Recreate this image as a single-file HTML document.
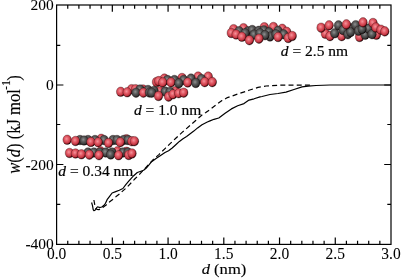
<!DOCTYPE html>
<html><head><meta charset="utf-8"><style>
html,body{margin:0;padding:0;background:#fff;}
svg{display:block;will-change:transform;}
.t{font-family:"Liberation Serif",serif;font-size:15.5px;fill:#000;stroke:#000;stroke-width:0.12px;}
.k{font-family:"Liberation Serif",serif;font-size:15.5px;fill:#000;stroke:#000;stroke-width:0.05px;}
.a{font-family:"Liberation Serif",serif;font-size:15.5px;fill:#000;stroke:#000;stroke-width:0.2px;}
</style></head><body>
<svg width="401" height="278" viewBox="0 0 401 278">
<defs>
<radialGradient id="r" cx="0.42" cy="0.4" r="0.6">
<stop offset="0" stop-color="#f4949c"/><stop offset="0.4" stop-color="#e25a65"/><stop offset="0.75" stop-color="#c23642"/><stop offset="0.9" stop-color="#6a0e16"/><stop offset="1" stop-color="#1c0203"/>
</radialGradient>
<radialGradient id="c" cx="0.42" cy="0.4" r="0.6">
<stop offset="0" stop-color="#909090"/><stop offset="0.4" stop-color="#5c5c5c"/><stop offset="0.78" stop-color="#3a3a3a"/><stop offset="0.92" stop-color="#1c1c1c"/><stop offset="1" stop-color="#050505"/>
</radialGradient>
</defs>
<rect width="401" height="278" fill="#fff"/>
<rect x="56.6" y="5.0" width="334.40" height="239.40" fill="none" stroke="#000" stroke-width="1.2"/>
<path d="M67.75 244.4v-3.7M67.75 5.0v3.7M78.89 244.4v-3.7M78.89 5.0v3.7M90.04 244.4v-3.7M90.04 5.0v3.7M101.19 244.4v-3.7M101.19 5.0v3.7M112.33 244.4v-6.8M112.33 5.0v6.8M123.48 244.4v-3.7M123.48 5.0v3.7M134.63 244.4v-3.7M134.63 5.0v3.7M145.77 244.4v-3.7M145.77 5.0v3.7M156.92 244.4v-3.7M156.92 5.0v3.7M168.07 244.4v-6.8M168.07 5.0v6.8M179.21 244.4v-3.7M179.21 5.0v3.7M190.36 244.4v-3.7M190.36 5.0v3.7M201.51 244.4v-3.7M201.51 5.0v3.7M212.65 244.4v-3.7M212.65 5.0v3.7M223.80 244.4v-6.8M223.80 5.0v6.8M234.95 244.4v-3.7M234.95 5.0v3.7M246.09 244.4v-3.7M246.09 5.0v3.7M257.24 244.4v-3.7M257.24 5.0v3.7M268.39 244.4v-3.7M268.39 5.0v3.7M279.53 244.4v-6.8M279.53 5.0v6.8M290.68 244.4v-3.7M290.68 5.0v3.7M301.83 244.4v-3.7M301.83 5.0v3.7M312.97 244.4v-3.7M312.97 5.0v3.7M324.12 244.4v-3.7M324.12 5.0v3.7M335.27 244.4v-6.8M335.27 5.0v6.8M346.41 244.4v-3.7M346.41 5.0v3.7M357.56 244.4v-3.7M357.56 5.0v3.7M368.71 244.4v-3.7M368.71 5.0v3.7M379.85 244.4v-3.7M379.85 5.0v3.7M56.6 45.40h3.7M391.0 45.40h-3.7M56.6 85.00h6.8M391.0 85.00h-6.8M56.6 124.50h3.7M391.0 124.50h-3.7M56.6 164.50h6.8M391.0 164.50h-6.8M56.6 204.40h3.7M391.0 204.40h-3.7" stroke="#000" stroke-width="1.2" fill="none"/>
<text transform="translate(56.60 258.60) scale(1 1.1)" text-anchor="middle" class="k">0.0</text>
<text transform="translate(112.33 258.60) scale(1 1.1)" text-anchor="middle" class="k">0.5</text>
<text transform="translate(168.07 258.60) scale(1 1.1)" text-anchor="middle" class="k">1.0</text>
<text transform="translate(223.80 258.60) scale(1 1.1)" text-anchor="middle" class="k">1.5</text>
<text transform="translate(279.53 258.60) scale(1 1.1)" text-anchor="middle" class="k">2.0</text>
<text transform="translate(335.27 258.60) scale(1 1.1)" text-anchor="middle" class="k">2.5</text>
<text transform="translate(391.00 258.60) scale(1 1.1)" text-anchor="middle" class="k">3.0</text>
<text transform="translate(53.80 10.00) scale(1 1.0)" text-anchor="end" class="k">200</text>
<text transform="translate(53.80 89.80) scale(1 1.0)" text-anchor="end" class="k">0</text>
<text transform="translate(53.80 169.60) scale(1 1.0)" text-anchor="end" class="k">-200</text>
<text transform="translate(53.80 249.40) scale(1 1.0)" text-anchor="end" class="k">-400</text>
<text transform="translate(224 274.0) scale(1.07 1.0)" text-anchor="middle" class="t"><tspan font-style="italic">d</tspan> (nm)</text>
<text transform="translate(19.6 124.5) rotate(-90) scale(0.93 1)" text-anchor="middle" class="t" style="font-size:17.8px"><tspan font-style="italic">w</tspan>(<tspan font-style="italic">d</tspan>) (kJ mol<tspan dy="-9.8" dx="-0.9" font-size="12.8">-1</tspan><tspan dy="9.8" dx="-0.7">)</tspan></text>
<text transform="translate(58.30 176.00) scale(1 0.93)" text-anchor="start" class="a"><tspan font-style="italic">d</tspan> = 0.34 nm</text>
<text transform="translate(134.00 115.20) scale(1 0.93)" text-anchor="start" class="a"><tspan font-style="italic">d</tspan> = 1.0 nm</text>
<text transform="translate(280.80 56.40) scale(1 0.93)" text-anchor="start" class="a"><tspan font-style="italic">d</tspan> = 2.5 nm</text>
<polyline points="93.9,200.0 94.8,205.0 95.8,208.2 97.0,209.3 99.0,209.6 102.0,208.0 105.5,205.6 109.7,201.8 113.1,199.2 116.1,196.6 119.7,193.9 122.0,191.6 125.6,188.5 128.3,185.8 131.4,182.6 134.5,179.3 138.7,175.2 142.7,170.9 146.0,167.4 150.0,163.0 153.6,159.2 158.9,154.6 165.0,148.6 170.4,143.4 175.8,138.3 182.1,132.4 190.0,125.5 196.0,120.2 202.0,115.0 205.8,112.6 210.0,109.6 216.6,104.4 222.0,100.6 227.4,97.6 238.2,93.9 249.0,90.3 258.0,87.4 266.0,86.0 280.0,85.2 300.0,85.0 310.0,85.2" fill="none" stroke="#000" stroke-width="1.2" stroke-dasharray="5 3.2" stroke-linejoin="round"/>
<polyline points="91.6,202.5 92.5,205.7 93.2,209.6 93.9,210.7 95.3,210.0 96.7,207.7 97.6,206.8 98.6,207.2 100.0,207.5 101.8,207.0 103.7,205.6 105.5,203.3 107.1,199.7 109.4,196.6 112.1,193.0 115.7,191.6 119.3,190.3 122.9,188.5 125.6,184.9 128.3,181.7 131.0,178.6 133.7,175.7 137.3,172.5 140.9,171.2 143.6,170.3 146.3,168.0 149.0,164.9 151.6,161.7 156.4,158.3 160.2,155.8 165.0,152.5 168.6,150.7 172.2,148.0 175.8,144.7 179.4,141.4 183.0,138.7 186.6,136.4 190.2,133.8 193.8,131.1 197.6,127.9 202.0,124.7 207.3,122.0 210.0,120.9 214.0,119.3 218.8,118.0 225.1,113.3 231.4,108.9 237.7,105.7 244.0,103.6 249.0,100.1 254.1,98.8 260.0,96.9 262.0,96.5 270.0,94.5 278.0,93.5 286.0,92.1 294.0,89.5 302.0,86.9 308.0,86.1 316.0,85.5 330.0,85.0 391.0,85.0" fill="none" stroke="#000" stroke-width="1.2" stroke-linejoin="round"/>
<ellipse cx="101.2" cy="138.8" rx="4.3" ry="4.8" fill="url(#r)" stroke="#1a0204" stroke-width="0.3"/>
<ellipse cx="126.4" cy="139.2" rx="4.3" ry="4.8" fill="url(#r)" stroke="#1a0204" stroke-width="0.3"/>
<ellipse cx="80.0" cy="140.0" rx="4.3" ry="4.8" fill="url(#c)" stroke="#1a0204" stroke-width="0.3"/>
<ellipse cx="88.0" cy="140.0" rx="4.3" ry="4.8" fill="url(#c)" stroke="#1a0204" stroke-width="0.3"/>
<ellipse cx="95.0" cy="140.0" rx="4.3" ry="4.8" fill="url(#c)" stroke="#1a0204" stroke-width="0.3"/>
<ellipse cx="104.0" cy="140.0" rx="4.3" ry="4.8" fill="url(#c)" stroke="#1a0204" stroke-width="0.3"/>
<ellipse cx="113.0" cy="140.0" rx="4.3" ry="4.8" fill="url(#c)" stroke="#1a0204" stroke-width="0.3"/>
<ellipse cx="117.0" cy="140.0" rx="4.3" ry="4.8" fill="url(#c)" stroke="#1a0204" stroke-width="0.3"/>
<ellipse cx="123.6" cy="140.0" rx="4.3" ry="4.8" fill="url(#c)" stroke="#1a0204" stroke-width="0.3"/>
<ellipse cx="128.0" cy="140.0" rx="4.3" ry="4.8" fill="url(#c)" stroke="#1a0204" stroke-width="0.3"/>
<ellipse cx="67.2" cy="139.8" rx="4.3" ry="4.8" fill="url(#r)" stroke="#1a0204" stroke-width="0.3"/>
<ellipse cx="75.5" cy="141.0" rx="4.3" ry="4.8" fill="url(#r)" stroke="#1a0204" stroke-width="0.3"/>
<ellipse cx="84.0" cy="140.5" rx="4.3" ry="4.8" fill="url(#c)" stroke="#1a0204" stroke-width="0.3"/>
<ellipse cx="90.9" cy="142.0" rx="4.3" ry="4.8" fill="url(#r)" stroke="#1a0204" stroke-width="0.3"/>
<ellipse cx="98.2" cy="142.3" rx="4.3" ry="4.8" fill="url(#r)" stroke="#1a0204" stroke-width="0.3"/>
<ellipse cx="108.5" cy="143.0" rx="4.3" ry="4.8" fill="url(#r)" stroke="#1a0204" stroke-width="0.3"/>
<ellipse cx="120.3" cy="142.2" rx="4.3" ry="4.8" fill="url(#r)" stroke="#1a0204" stroke-width="0.3"/>
<ellipse cx="131.8" cy="141.2" rx="4.3" ry="4.8" fill="url(#r)" stroke="#1a0204" stroke-width="0.3"/>
<ellipse cx="134.4" cy="141.2" rx="4.3" ry="4.8" fill="url(#r)" stroke="#1a0204" stroke-width="0.3"/>
<ellipse cx="100.6" cy="151.4" rx="4.3" ry="4.8" fill="url(#r)" stroke="#1a0204" stroke-width="0.3"/>
<ellipse cx="117.4" cy="151.4" rx="4.3" ry="4.8" fill="url(#r)" stroke="#1a0204" stroke-width="0.3"/>
<ellipse cx="126.4" cy="151.8" rx="4.3" ry="4.8" fill="url(#r)" stroke="#1a0204" stroke-width="0.3"/>
<ellipse cx="88.0" cy="152.5" rx="4.3" ry="4.8" fill="url(#c)" stroke="#1a0204" stroke-width="0.3"/>
<ellipse cx="93.9" cy="152.5" rx="4.3" ry="4.8" fill="url(#c)" stroke="#1a0204" stroke-width="0.3"/>
<ellipse cx="100.0" cy="152.5" rx="4.3" ry="4.8" fill="url(#c)" stroke="#1a0204" stroke-width="0.3"/>
<ellipse cx="105.7" cy="152.5" rx="4.3" ry="4.8" fill="url(#c)" stroke="#1a0204" stroke-width="0.3"/>
<ellipse cx="112.0" cy="152.5" rx="4.3" ry="4.8" fill="url(#c)" stroke="#1a0204" stroke-width="0.3"/>
<ellipse cx="123.0" cy="152.5" rx="4.3" ry="4.8" fill="url(#c)" stroke="#1a0204" stroke-width="0.3"/>
<ellipse cx="128.0" cy="152.5" rx="4.3" ry="4.8" fill="url(#c)" stroke="#1a0204" stroke-width="0.3"/>
<ellipse cx="69.5" cy="153.0" rx="4.3" ry="4.8" fill="url(#r)" stroke="#1a0204" stroke-width="0.3"/>
<ellipse cx="75.5" cy="153.5" rx="4.3" ry="4.8" fill="url(#r)" stroke="#1a0204" stroke-width="0.3"/>
<ellipse cx="81.4" cy="154.3" rx="4.3" ry="4.8" fill="url(#r)" stroke="#1a0204" stroke-width="0.3"/>
<ellipse cx="89.4" cy="154.7" rx="4.3" ry="4.8" fill="url(#r)" stroke="#1a0204" stroke-width="0.3"/>
<ellipse cx="99.0" cy="155.2" rx="4.3" ry="4.8" fill="url(#r)" stroke="#1a0204" stroke-width="0.3"/>
<ellipse cx="110.7" cy="154.5" rx="4.3" ry="4.8" fill="url(#c)" stroke="#1a0204" stroke-width="0.3"/>
<ellipse cx="118.6" cy="155.3" rx="4.3" ry="4.8" fill="url(#r)" stroke="#1a0204" stroke-width="0.3"/>
<ellipse cx="128.7" cy="155.0" rx="4.3" ry="4.8" fill="url(#r)" stroke="#1a0204" stroke-width="0.3"/>
<ellipse cx="132.0" cy="153.5" rx="4.3" ry="4.8" fill="url(#r)" stroke="#1a0204" stroke-width="0.3"/>
<ellipse cx="131.6" cy="89.2" rx="4.3" ry="4.8" fill="url(#r)" stroke="#1a0204" stroke-width="0.3"/>
<ellipse cx="135.5" cy="89.2" rx="4.3" ry="4.8" fill="url(#r)" stroke="#1a0204" stroke-width="0.3"/>
<ellipse cx="143.0" cy="89.5" rx="4.3" ry="4.8" fill="url(#r)" stroke="#1a0204" stroke-width="0.3"/>
<ellipse cx="159.6" cy="91.2" rx="4.3" ry="4.8" fill="url(#r)" stroke="#1a0204" stroke-width="0.3"/>
<ellipse cx="175.3" cy="91.2" rx="4.3" ry="4.8" fill="url(#r)" stroke="#1a0204" stroke-width="0.3"/>
<ellipse cx="140.0" cy="89.5" rx="4.3" ry="4.8" fill="url(#c)" stroke="#1a0204" stroke-width="0.3"/>
<ellipse cx="148.0" cy="90.0" rx="4.3" ry="4.8" fill="url(#c)" stroke="#1a0204" stroke-width="0.3"/>
<ellipse cx="154.0" cy="91.0" rx="4.3" ry="4.8" fill="url(#c)" stroke="#1a0204" stroke-width="0.3"/>
<ellipse cx="165.2" cy="91.5" rx="4.3" ry="4.8" fill="url(#c)" stroke="#1a0204" stroke-width="0.3"/>
<ellipse cx="170.0" cy="92.0" rx="4.3" ry="4.8" fill="url(#c)" stroke="#1a0204" stroke-width="0.3"/>
<ellipse cx="120.7" cy="91.8" rx="4.3" ry="4.8" fill="url(#r)" stroke="#1a0204" stroke-width="0.3"/>
<ellipse cx="127.2" cy="92.3" rx="4.3" ry="4.8" fill="url(#r)" stroke="#1a0204" stroke-width="0.3"/>
<ellipse cx="136.0" cy="92.7" rx="4.3" ry="4.8" fill="url(#c)" stroke="#1a0204" stroke-width="0.3"/>
<ellipse cx="143.4" cy="92.7" rx="4.3" ry="4.8" fill="url(#r)" stroke="#1a0204" stroke-width="0.3"/>
<ellipse cx="149.5" cy="92.5" rx="4.3" ry="4.8" fill="url(#c)" stroke="#1a0204" stroke-width="0.3"/>
<ellipse cx="151.7" cy="92.7" rx="4.3" ry="4.8" fill="url(#c)" stroke="#1a0204" stroke-width="0.3"/>
<ellipse cx="158.5" cy="96.0" rx="4.3" ry="4.8" fill="url(#r)" stroke="#1a0204" stroke-width="0.3"/>
<ellipse cx="168.6" cy="96.6" rx="4.3" ry="4.8" fill="url(#r)" stroke="#1a0204" stroke-width="0.3"/>
<ellipse cx="173.0" cy="94.3" rx="4.3" ry="4.8" fill="url(#r)" stroke="#1a0204" stroke-width="0.3"/>
<ellipse cx="178.7" cy="93.2" rx="4.3" ry="4.8" fill="url(#r)" stroke="#1a0204" stroke-width="0.3"/>
<ellipse cx="183.7" cy="92.7" rx="4.3" ry="4.8" fill="url(#r)" stroke="#1a0204" stroke-width="0.3"/>
<ellipse cx="164.4" cy="78.6" rx="4.3" ry="4.8" fill="url(#r)" stroke="#1a0204" stroke-width="0.3"/>
<ellipse cx="182.0" cy="78.0" rx="4.3" ry="4.8" fill="url(#r)" stroke="#1a0204" stroke-width="0.3"/>
<ellipse cx="198.1" cy="76.6" rx="4.3" ry="4.8" fill="url(#r)" stroke="#1a0204" stroke-width="0.3"/>
<ellipse cx="208.2" cy="76.6" rx="4.3" ry="4.8" fill="url(#r)" stroke="#1a0204" stroke-width="0.3"/>
<ellipse cx="167.5" cy="80.0" rx="4.3" ry="4.8" fill="url(#c)" stroke="#1a0204" stroke-width="0.3"/>
<ellipse cx="174.4" cy="80.0" rx="4.3" ry="4.8" fill="url(#c)" stroke="#1a0204" stroke-width="0.3"/>
<ellipse cx="183.6" cy="80.0" rx="4.3" ry="4.8" fill="url(#c)" stroke="#1a0204" stroke-width="0.3"/>
<ellipse cx="191.0" cy="78.6" rx="4.3" ry="4.8" fill="url(#c)" stroke="#1a0204" stroke-width="0.3"/>
<ellipse cx="201.4" cy="79.0" rx="4.3" ry="4.8" fill="url(#c)" stroke="#1a0204" stroke-width="0.3"/>
<ellipse cx="156.5" cy="82.0" rx="4.3" ry="4.8" fill="url(#r)" stroke="#1a0204" stroke-width="0.3"/>
<ellipse cx="158.7" cy="81.1" rx="4.3" ry="4.8" fill="url(#r)" stroke="#1a0204" stroke-width="0.3"/>
<ellipse cx="162.7" cy="82.4" rx="4.3" ry="4.8" fill="url(#r)" stroke="#1a0204" stroke-width="0.3"/>
<ellipse cx="171.0" cy="82.4" rx="4.3" ry="4.8" fill="url(#r)" stroke="#1a0204" stroke-width="0.3"/>
<ellipse cx="178.8" cy="83.3" rx="4.3" ry="4.8" fill="url(#c)" stroke="#1a0204" stroke-width="0.3"/>
<ellipse cx="187.7" cy="82.5" rx="4.3" ry="4.8" fill="url(#r)" stroke="#1a0204" stroke-width="0.3"/>
<ellipse cx="195.7" cy="83.0" rx="4.3" ry="4.8" fill="url(#c)" stroke="#1a0204" stroke-width="0.3"/>
<ellipse cx="204.7" cy="82.1" rx="4.3" ry="4.8" fill="url(#r)" stroke="#1a0204" stroke-width="0.3"/>
<ellipse cx="212.3" cy="82.1" rx="4.3" ry="4.8" fill="url(#r)" stroke="#1a0204" stroke-width="0.3"/>
<ellipse cx="233.6" cy="29.2" rx="4.3" ry="4.8" fill="url(#r)" stroke="#1a0204" stroke-width="0.3"/>
<ellipse cx="243.5" cy="28.2" rx="4.3" ry="4.8" fill="url(#r)" stroke="#1a0204" stroke-width="0.3"/>
<ellipse cx="264.3" cy="27.2" rx="4.3" ry="4.8" fill="url(#r)" stroke="#1a0204" stroke-width="0.3"/>
<ellipse cx="273.4" cy="27.0" rx="4.3" ry="4.8" fill="url(#r)" stroke="#1a0204" stroke-width="0.3"/>
<ellipse cx="282.2" cy="28.8" rx="4.3" ry="4.8" fill="url(#r)" stroke="#1a0204" stroke-width="0.3"/>
<ellipse cx="286.7" cy="31.8" rx="4.3" ry="4.8" fill="url(#r)" stroke="#1a0204" stroke-width="0.3"/>
<ellipse cx="239.1" cy="31.2" rx="4.3" ry="4.8" fill="url(#c)" stroke="#1a0204" stroke-width="0.3"/>
<ellipse cx="248.0" cy="31.4" rx="4.3" ry="4.8" fill="url(#c)" stroke="#1a0204" stroke-width="0.3"/>
<ellipse cx="252.2" cy="30.0" rx="4.3" ry="4.8" fill="url(#c)" stroke="#1a0204" stroke-width="0.3"/>
<ellipse cx="258.7" cy="30.9" rx="4.3" ry="4.8" fill="url(#c)" stroke="#1a0204" stroke-width="0.3"/>
<ellipse cx="263.9" cy="30.4" rx="4.3" ry="4.8" fill="url(#c)" stroke="#1a0204" stroke-width="0.3"/>
<ellipse cx="269.0" cy="32.3" rx="4.3" ry="4.8" fill="url(#c)" stroke="#1a0204" stroke-width="0.3"/>
<ellipse cx="278.1" cy="30.8" rx="4.3" ry="4.8" fill="url(#c)" stroke="#1a0204" stroke-width="0.3"/>
<ellipse cx="245.1" cy="33.3" rx="4.3" ry="4.8" fill="url(#c)" stroke="#1a0204" stroke-width="0.3"/>
<ellipse cx="254.0" cy="34.6" rx="4.3" ry="4.8" fill="url(#c)" stroke="#1a0204" stroke-width="0.3"/>
<ellipse cx="260.0" cy="33.2" rx="4.3" ry="4.8" fill="url(#c)" stroke="#1a0204" stroke-width="0.3"/>
<ellipse cx="270.0" cy="36.5" rx="4.3" ry="4.8" fill="url(#c)" stroke="#1a0204" stroke-width="0.3"/>
<ellipse cx="283.7" cy="34.3" rx="4.3" ry="4.8" fill="url(#c)" stroke="#1a0204" stroke-width="0.3"/>
<ellipse cx="276.0" cy="34.2" rx="4.3" ry="4.8" fill="url(#c)" stroke="#1a0204" stroke-width="0.3"/>
<ellipse cx="265.0" cy="35.2" rx="4.3" ry="4.8" fill="url(#c)" stroke="#1a0204" stroke-width="0.3"/>
<ellipse cx="231.3" cy="33.0" rx="4.3" ry="4.8" fill="url(#r)" stroke="#1a0204" stroke-width="0.3"/>
<ellipse cx="236.1" cy="34.5" rx="4.3" ry="4.8" fill="url(#r)" stroke="#1a0204" stroke-width="0.3"/>
<ellipse cx="241.9" cy="36.8" rx="4.3" ry="4.8" fill="url(#r)" stroke="#1a0204" stroke-width="0.3"/>
<ellipse cx="249.4" cy="40.2" rx="4.3" ry="4.8" fill="url(#r)" stroke="#1a0204" stroke-width="0.3"/>
<ellipse cx="259.0" cy="38.7" rx="4.3" ry="4.8" fill="url(#r)" stroke="#1a0204" stroke-width="0.3"/>
<ellipse cx="278.1" cy="37.0" rx="4.3" ry="4.8" fill="url(#r)" stroke="#1a0204" stroke-width="0.3"/>
<ellipse cx="288.2" cy="38.0" rx="4.3" ry="4.8" fill="url(#r)" stroke="#1a0204" stroke-width="0.3"/>
<ellipse cx="292.2" cy="36.0" rx="4.3" ry="4.8" fill="url(#r)" stroke="#1a0204" stroke-width="0.3"/>
<ellipse cx="325.4" cy="33.8" rx="4.3" ry="4.8" fill="url(#r)" stroke="#1a0204" stroke-width="0.3"/>
<ellipse cx="330.0" cy="36.1" rx="4.3" ry="4.8" fill="url(#r)" stroke="#1a0204" stroke-width="0.3"/>
<ellipse cx="341.7" cy="36.1" rx="4.3" ry="4.8" fill="url(#r)" stroke="#1a0204" stroke-width="0.3"/>
<ellipse cx="359.6" cy="37.0" rx="4.3" ry="4.8" fill="url(#r)" stroke="#1a0204" stroke-width="0.3"/>
<ellipse cx="376.4" cy="34.8" rx="4.3" ry="4.8" fill="url(#r)" stroke="#1a0204" stroke-width="0.3"/>
<ellipse cx="334.7" cy="33.3" rx="4.3" ry="4.8" fill="url(#c)" stroke="#1a0204" stroke-width="0.3"/>
<ellipse cx="338.5" cy="25.4" rx="4.3" ry="4.8" fill="url(#c)" stroke="#1a0204" stroke-width="0.3"/>
<ellipse cx="343.1" cy="30.0" rx="4.3" ry="4.8" fill="url(#c)" stroke="#1a0204" stroke-width="0.3"/>
<ellipse cx="347.8" cy="34.2" rx="4.3" ry="4.8" fill="url(#c)" stroke="#1a0204" stroke-width="0.3"/>
<ellipse cx="351.0" cy="28.2" rx="4.3" ry="4.8" fill="url(#c)" stroke="#1a0204" stroke-width="0.3"/>
<ellipse cx="350.6" cy="32.0" rx="4.3" ry="4.8" fill="url(#c)" stroke="#1a0204" stroke-width="0.3"/>
<ellipse cx="355.7" cy="25.2" rx="4.3" ry="4.8" fill="url(#c)" stroke="#1a0204" stroke-width="0.3"/>
<ellipse cx="358.5" cy="30.8" rx="4.3" ry="4.8" fill="url(#c)" stroke="#1a0204" stroke-width="0.3"/>
<ellipse cx="365.2" cy="34.8" rx="4.3" ry="4.8" fill="url(#c)" stroke="#1a0204" stroke-width="0.3"/>
<ellipse cx="368.6" cy="28.6" rx="4.3" ry="4.8" fill="url(#c)" stroke="#1a0204" stroke-width="0.3"/>
<ellipse cx="372.0" cy="34.2" rx="4.3" ry="4.8" fill="url(#c)" stroke="#1a0204" stroke-width="0.3"/>
<ellipse cx="362.0" cy="29.0" rx="4.3" ry="4.8" fill="url(#c)" stroke="#1a0204" stroke-width="0.3"/>
<ellipse cx="321.1" cy="27.7" rx="4.3" ry="4.8" fill="url(#r)" stroke="#1a0204" stroke-width="0.3"/>
<ellipse cx="329.1" cy="25.4" rx="4.3" ry="4.8" fill="url(#r)" stroke="#1a0204" stroke-width="0.3"/>
<ellipse cx="346.4" cy="24.4" rx="4.3" ry="4.8" fill="url(#r)" stroke="#1a0204" stroke-width="0.3"/>
<ellipse cx="363.0" cy="22.4" rx="4.3" ry="4.8" fill="url(#r)" stroke="#1a0204" stroke-width="0.3"/>
<ellipse cx="373.0" cy="23.0" rx="4.3" ry="4.8" fill="url(#r)" stroke="#1a0204" stroke-width="0.3"/>
<ellipse cx="375.9" cy="27.5" rx="4.3" ry="4.8" fill="url(#r)" stroke="#1a0204" stroke-width="0.3"/>
<ellipse cx="380.9" cy="29.7" rx="4.3" ry="4.8" fill="url(#r)" stroke="#1a0204" stroke-width="0.3"/>
<ellipse cx="384.8" cy="31.4" rx="4.3" ry="4.8" fill="url(#r)" stroke="#1a0204" stroke-width="0.3"/>
</svg>
</body></html>
